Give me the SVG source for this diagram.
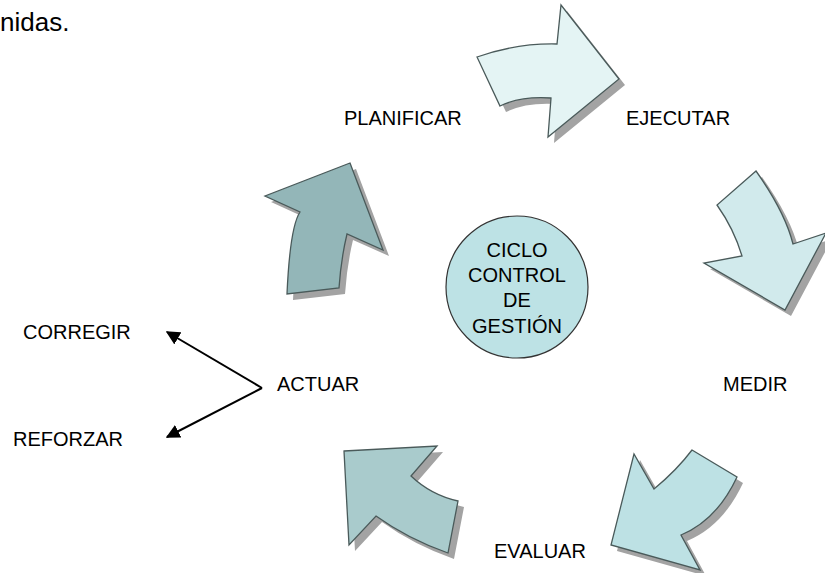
<svg xmlns="http://www.w3.org/2000/svg" xmlns:xlink="http://www.w3.org/1999/xlink" width="825" height="573" viewBox="0 0 825 573">
<style>
  .lbl { font-family: "Liberation Sans", Arial, sans-serif; font-size: 20px; fill: #000; }
  .shadow { fill: #a3a3a3; stroke: none; }
  .arr { stroke: #4a5a5a; stroke-width: 1.3; stroke-linejoin: miter; }
  .conn { stroke: #000; stroke-width: 2; fill: none; }
</style>
<defs>
  <path id="pTop" d="M477,57 Q517,43 557,44 L561,5 L619,79 L548,137 L551,98 Q520,96 500,106 Z"/>
  <path id="pRight" d="M756,171 Q785,212 793,244 L826,233 L785,310 L704,263 L742,256 Q734,229 717,205 Z"/>
  <path id="pBR" d="M692,450 L737,477 Q717,520 681,535 L700,570 L611,545 L634,454 L654,489 Q677,470 692,450 Z"/>
  <path id="pBL" d="M344,451 L437,446 L411,476 Q431,495 458,501 L448,553 Q408,539 376,516 L349,545 Z"/>
  <path id="pLeft" d="M350,163 L383,250 L347,234 Q341,259 339,288 L287,294 Q290,227 300,212 L265,196 Z"/>
  <marker id="ah" viewBox="0 0 10 10" refX="9" refY="5" markerWidth="7" markerHeight="7" orient="auto" markerUnits="strokeWidth">
    <path d="M0,0 L10,5 L0,10 Z" fill="#000"/>
  </marker>
</defs>
<rect width="825" height="573" fill="#fff"/>
<text class="lbl" x="0" y="31" style="font-size:26px">nidas.</text>

<g id="arrow-planificar-ejecutar">
  <use xlink:href="#pTop" class="shadow" transform="translate(6,6)"/>
  <use xlink:href="#pTop" class="arr" fill="#e4f4f4"/>
</g>
<g id="arrow-ejecutar-medir">
  <use xlink:href="#pRight" class="shadow" transform="translate(6,6)"/>
  <use xlink:href="#pRight" class="arr" fill="#d1eaec"/>
</g>
<g id="arrow-medir-evaluar">
  <use xlink:href="#pBR" class="shadow" transform="translate(6,6)"/>
  <use xlink:href="#pBR" class="arr" fill="#bde1e4"/>
</g>
<g id="arrow-evaluar-actuar">
  <use xlink:href="#pBL" class="shadow" transform="translate(6,6)"/>
  <use xlink:href="#pBL" class="arr" fill="#a9cbcc"/>
</g>
<g id="arrow-actuar-planificar">
  <use xlink:href="#pLeft" class="shadow" transform="translate(6,6)"/>
  <use xlink:href="#pLeft" class="arr" fill="#93b6b8"/>
</g>

<g id="center">
  <circle cx="517" cy="287" r="71" fill="#bde2e5" stroke="#333" stroke-width="1.2"/>
  <text class="lbl" text-anchor="middle" x="517" y="257">CICLO</text>
  <text class="lbl" text-anchor="middle" x="517" y="282">CONTROL</text>
  <text class="lbl" text-anchor="middle" x="517" y="307">DE</text>
  <text class="lbl" text-anchor="middle" x="517" y="333">GESTIÓN</text>
</g>

<g id="planificar"><text class="lbl" x="344" y="125">PLANIFICAR</text></g>
<g id="ejecutar"><text class="lbl" x="626" y="125">EJECUTAR</text></g>
<g id="medir"><text class="lbl" x="723" y="391">MEDIR</text></g>
<g id="evaluar"><text class="lbl" x="494" y="558">EVALUAR</text></g>
<g id="actuar"><text class="lbl" x="277" y="391">ACTUAR</text></g>
<g id="corregir"><text class="lbl" x="23" y="339">CORREGIR</text></g>
<g id="reforzar"><text class="lbl" x="13" y="446">REFORZAR</text></g>

<g id="connectors">
  <line class="conn" x1="262" y1="388" x2="167" y2="332" marker-end="url(#ah)"/>
  <line class="conn" x1="262" y1="388" x2="167" y2="437" marker-end="url(#ah)"/>
</g>
</svg>
